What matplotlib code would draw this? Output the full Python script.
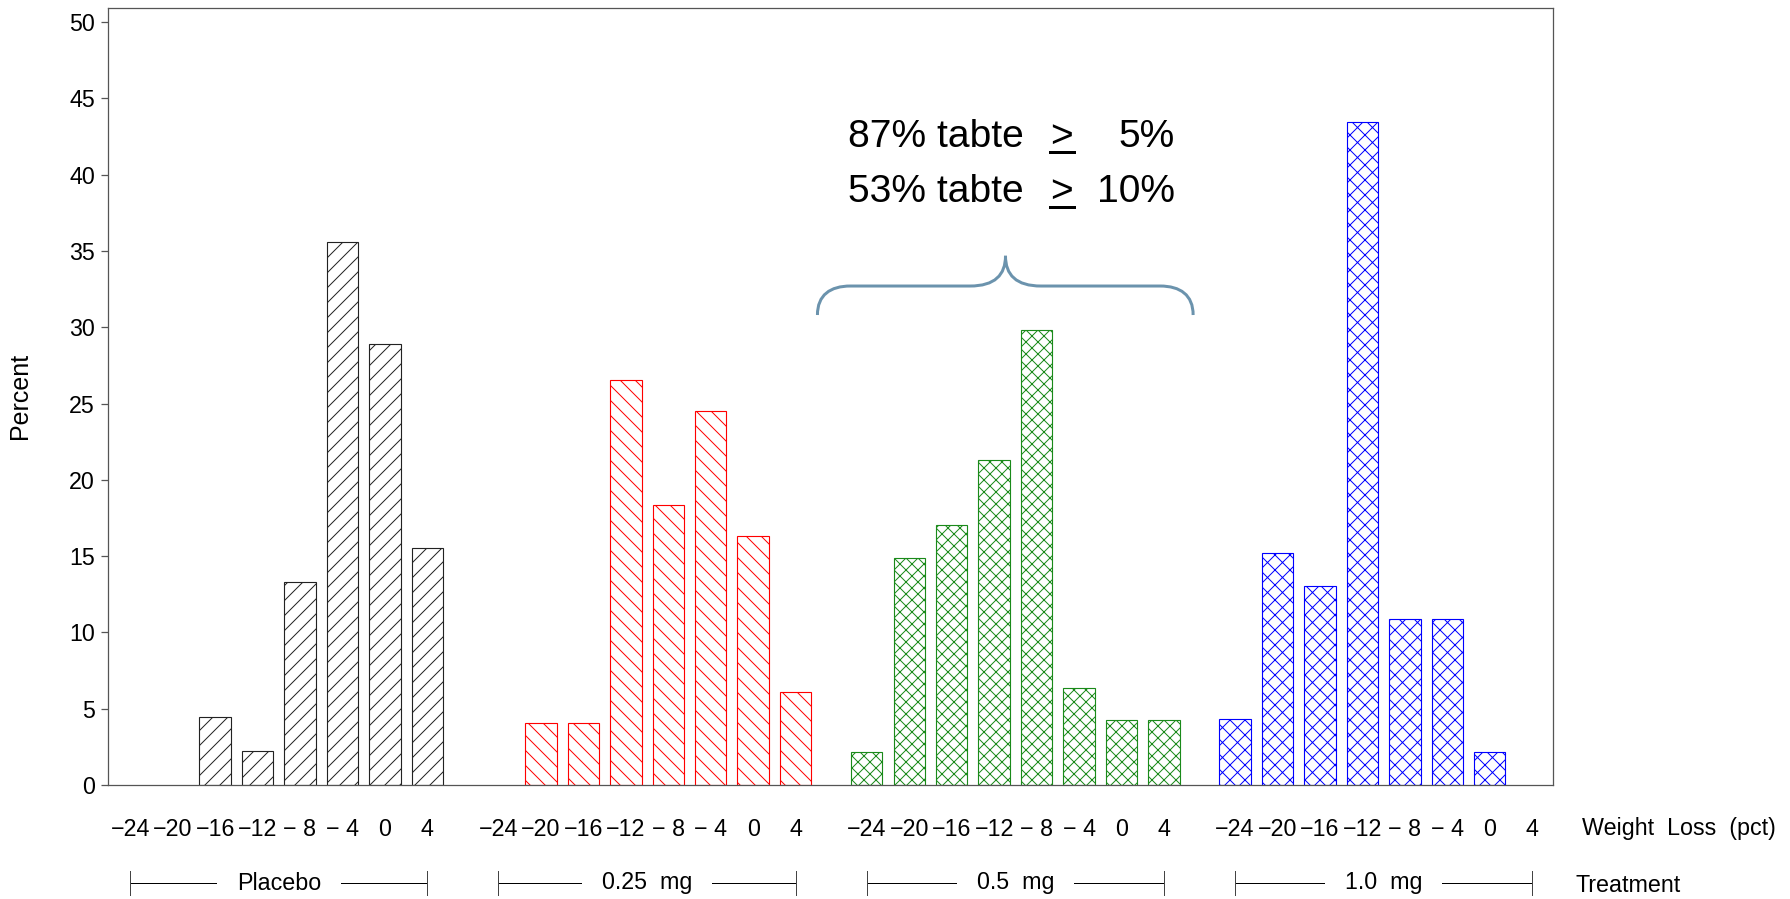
from matplotlib import pyplot as plt
from matplotlib.path import Path
from matplotlib.patches import PathPatch
import matplotlib.transforms as mtransforms
import numpy as np

bins = [-24, -20, -16, -12, -8, -4, 0, 4]
tick_labels = ["\u221224", "\u221220", "\u221216", "\u221212", "\u2212 8", "\u2212 4", "0", "4"]
groups = ["Placebo", "0.25  mg", "0.5  mg", "1.0  mg"]

placebo = [0, 0, 4.44, 2.22, 13.33, 35.56, 28.89, 15.56]
mg025 = [0, 4.08, 4.08, 26.53, 18.37, 24.49, 16.33, 6.12]
mg05 = [2.13, 14.89, 17.02, 21.28, 29.79, 6.38, 4.26, 4.26]
mg10 = [4.35, 15.22, 13.04, 43.48, 10.87, 10.87, 2.17, 0]
values = [placebo, mg025, mg05, mg10]

colors = ["#222222", "red", "#1a8a1a", "blue"]
hatches = ["////", "\\\\\\\\", "xxxxx", "xxxx"]

plt.rcParams["font.family"] = ["Liberation Sans", "DejaVu Sans"]
plt.rcParams["hatch.linewidth"] = 0.4

DPI = 180
fig = plt.figure(figsize=(1790 / DPI, 899 / DPI), dpi=DPI)
ax = fig.add_axes([108 / 1790, 1 - 785 / 899, 1445 / 1790, 777 / 899])

G = 8.676  # distance between group starts (in bins)
for g in range(4):
    pos = g * G + np.arange(len(bins))
    vals = np.array(values[g])
    keep = vals > 0
    ax.bar(pos[keep], vals[keep], width=0.74, facecolor="white",
           edgecolor=colors[g], hatch=hatches[g], linewidth=0.45)

ax.set_xlim(-0.523, 3 * G + 7.49)
ax.set_ylim(0, 50.92)
ax.set_yticks(np.arange(0, 51, 5))
ax.tick_params(axis="y", length=2.8, width=0.5, color="#555555", pad=2.4, labelsize=9.3)

xt = np.concatenate([g * G + np.arange(len(bins)) for g in range(4)])
ax.set_xticks(xt)
ax.set_xticklabels(tick_labels * 4, fontsize=9.3)
ax.tick_params(axis="x", length=0, pad=13)

for s in ax.spines.values():
    s.set_color("#555555")
    s.set_linewidth(0.5)

fig.text(20 / 1790, 1 - 396 / 899, "Percent", rotation=90, ha="center", va="center",
         fontsize=10)
fig.text(1582 / 1790, 1 - 828 / 899, "Weight  Loss  (pct)", ha="left", va="center",
         fontsize=9.3)
fig.text(1575 / 1790, 1 - 885 / 899, "Treatment", ha="left", va="center",
         fontsize=9.3)

# treatment brackets below the axis
trans = mtransforms.blended_transform_factory(ax.transData, fig.transFigure)
yb = 1 - 883 / 899
for g in range(4):
    x0, x1 = g * G, g * G + 7
    ax.plot([x0, x1], [yb, yb], color="black", lw=0.4, transform=trans, clip_on=False)
    for x in (x0, x1):
        ax.plot([x, x], [yb - 0.013, yb + 0.013], color="#444444", lw=0.4,
                transform=trans, clip_on=False)
    ax.text((x0 + x1) / 2, yb, groups[g], ha="center", va="center", fontsize=9.3,
            transform=trans, bbox=dict(facecolor="white", edgecolor="none", pad=8))

# annotation text
fs = 15.6
lines = [("87% tabte", "5%", 41.81), ("53% tabte", "10%", 38.2)]
for left, right, yy in lines:
    ax.text(16.91, yy, left, ha="left", va="baseline", fontsize=fs)
    ax.text(21.95, yy, ">", ha="center", va="baseline", fontsize=fs)
    ax.text(24.61, yy, right, ha="right", va="baseline", fontsize=fs)
    ax.plot([21.67, 22.23], [yy - 0.3, yy - 0.3], color="black", lw=1.2)

# curly brace
L, R, M = 16.19, 25.04, 20.62
y0, y1, y2 = 30.8, 32.7, 34.68
verts = [(L, y0), (L, 32.11), (L + 0.3, y1), (L + 0.78, y1),
         (M - 0.84, y1),
         (M - 0.25, y1), (M, 33.43), (M, y2),
         (M, 33.43), (M + 0.25, y1), (M + 0.84, y1),
         (R - 0.78, y1),
         (R - 0.3, y1), (R, 32.11), (R, y0)]
codes = [Path.MOVETO, Path.CURVE4, Path.CURVE4, Path.CURVE4,
         Path.LINETO,
         Path.CURVE4, Path.CURVE4, Path.CURVE4,
         Path.CURVE4, Path.CURVE4, Path.CURVE4,
         Path.LINETO,
         Path.CURVE4, Path.CURVE4, Path.CURVE4]
ax.add_patch(PathPatch(Path(verts, codes), facecolor="none", edgecolor="#6b93ad", lw=1.2))

fig.savefig("out.png", dpi=DPI)
